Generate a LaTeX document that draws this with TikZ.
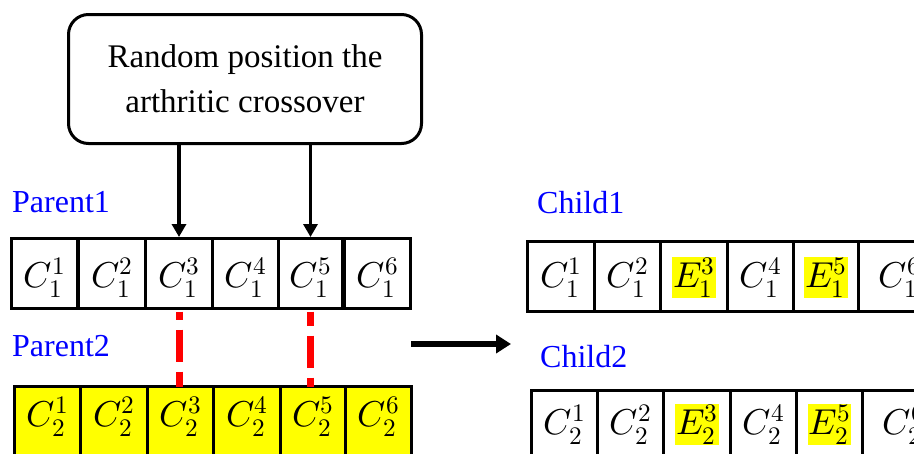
\documentclass[tikz,border=0pt]{standalone}
\usepackage{fontspec}
\usepackage{unicode-math}
\setmainfont{Liberation Serif}
\setmathfont{Latin Modern Math}
\usetikzlibrary{arrows.meta}
\definecolor{lblue}{RGB}{0,0,255}
\definecolor{hyel}{RGB}{255,255,0}
\definecolor{dred}{RGB}{255,0,0}
\begin{document}
\begin{tikzpicture}[x=1pt,y=-1pt,
  cell/.style={draw,line width=3pt,minimum width=66pt,minimum height=70pt,inner sep=0pt,anchor=north west},
  ycell/.style={cell,fill=hyel},
  gene/.style={inner sep=0pt,font=\fontsize{36}{38}\selectfont},
  hgene/.style={gene,fill=hyel,inner sep=1pt},
  lbl/.style={anchor=base west,inner sep=0pt,text=lblue,font=\fontsize{32}{36}\selectfont},
  arr/.style={line width=3.5pt,-{Triangle[length=13pt,width=14pt]}},
  dashline/.style={dred,line width=7pt,dash pattern=on 32pt off 10pt}]
\useasboundingbox (0,0) rectangle (914,453);
\clip (0,0) rectangle (914,453);
% top box
\node[draw,line width=3pt,rounded corners=20pt,minimum width=353pt,minimum height=129pt,anchor=north west,
      align=center,font=\fontsize{33}{45}\selectfont] (box) at (67,13) {Random position the\\arthritic crossover};
% labels
\node[lbl] (lp1) at (12,212) {Parent1};
\node[lbl] (lp2) at (12,356) {Parent2};
\node[lbl] (lc1) at (537,213) {Child1};
\node[lbl] (lc2) at (540,367) {Child2};
% parent1
\node[cell] (p1c1) at (10,237) {};
\node[cell,minimum width=67pt] (p1c2) at (77,237) {};
\node[cell,minimum width=67pt] (p1c3) at (144,237) {};
\node[cell] (p1c4) at (211,237) {};
\node[cell,minimum width=64pt] (p1c5) at (277,237) {};
\node[cell] (p1c6) at (343,237) {};
\foreach \i in {1,...,6}{\node[gene] at ([yshift=-4pt]p1c\i.center) {$C_1^{\i}$};}
% parent2
\node[ycell,minimum height=90pt] (p2c1) at (13,385) {};
\node[ycell,minimum height=90pt,minimum width=67pt] (p2c2) at (79,385) {};
\node[ycell,minimum height=90pt] (p2c3) at (146,385) {};
\node[ycell,minimum height=90pt,minimum width=67pt] (p2c4) at (212,385) {};
\node[ycell,minimum height=90pt,minimum width=65pt] (p2c5) at (279,385) {};
\node[ycell,minimum height=90pt] (p2c6) at (344,385) {};
\foreach \i in {1,...,6}{\node[gene] at ([yshift=15pt]p2c\i.center) {$C_2^{\i}$};}
% child1
\node[cell,minimum width=67pt] (c1c1) at (526,240) {};
\node[cell] (c1c2) at (593,240) {};
\node[cell,minimum width=67pt] (c1c3) at (659,240) {};
\node[cell] (c1c4) at (726,240) {};
\node[cell,minimum width=65pt] (c1c5) at (792,240) {};
\node[cell] (c1c6) at (857,240) {};
\node[gene] at ([yshift=-1pt]c1c1.center) {$C_1^1$};
\node[gene] at ([yshift=-1pt]c1c2.center) {$C_1^2$};
\node[hgene] at ([yshift=-1pt]c1c3.center) {$E_1^3$};
\node[gene] at ([yshift=-1pt]c1c4.center) {$C_1^4$};
\node[hgene] at ([yshift=-1pt]c1c5.center) {$E_1^5$};
\node[gene] at ([xshift=8pt,yshift=-1pt]c1c6.center) {$C_1^6$};
% child2
\node[cell,minimum height=90pt] (c2c1) at (530,389) {};
\node[cell,minimum height=90pt] (c2c2) at (596,389) {};
\node[cell,minimum height=90pt,minimum width=67pt] (c2c3) at (662,389) {};
\node[cell,minimum height=90pt] (c2c4) at (729,389) {};
\node[cell,minimum height=90pt] (c2c5) at (795,389) {};
\node[cell,minimum height=90pt] (c2c6) at (861,389) {};
\node[gene] at ([yshift=11pt]c2c1.center) {$C_2^1$};
\node[gene] at ([yshift=11pt]c2c2.center) {$C_2^2$};
\node[hgene] at ([yshift=11pt]c2c3.center) {$E_2^3$};
\node[gene] at ([yshift=11pt]c2c4.center) {$C_2^4$};
\node[hgene] at ([yshift=11pt]c2c5.center) {$E_2^5$};
\node[gene] at ([xshift=8pt,yshift=11pt]c2c6.center) {$C_2^6$};
% arrows from box
\draw[arr] (box.south -| p1c3.north) -- (p1c3.north);
\draw[arr] (box.south -| p1c5.north) -- (p1c5.north);
% red dashed
\draw[dashline,dash phase=-18pt] ([yshift=-1.5pt]p1c3.south) -- ([yshift=-1.5pt]p1c3.south |- p2c3.north);
\draw[dashline,dash phase=-24pt] ([yshift=-1.5pt]p1c5.south) -- ([yshift=-1.5pt]p1c5.south |- p2c5.north);
% big arrow
\coordinate (as) at (411,344);
\coordinate (ae) at (511,344);
\draw[line width=6pt,-{Triangle[length=15pt,width=18pt]}] (as) -- (ae);
\end{tikzpicture}
\end{document}
